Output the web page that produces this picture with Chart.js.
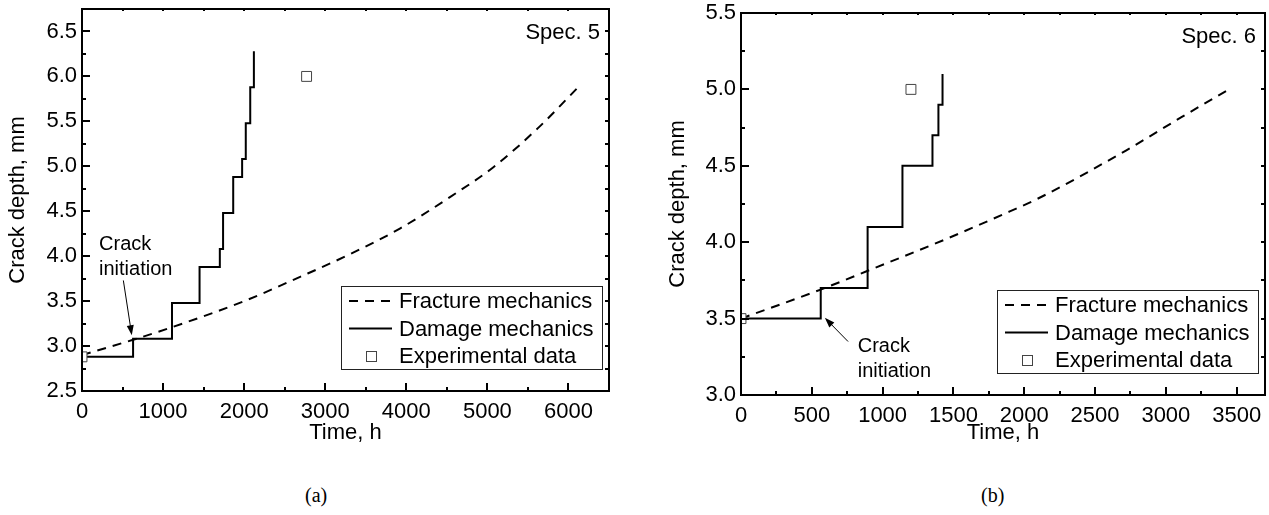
<!DOCTYPE html>
<html>
<head>
<meta charset="utf-8">
<title>Crack depth vs time</title>
<script src="https://cdn.jsdelivr.net/npm/chart.js@4.4.1/dist/chart.umd.min.js"></script>
<style>
  body { margin: 0; background: #fff; width: 1269px; height: 515px; position: relative; overflow: hidden; }
  .panel { position: absolute; top: 0; height: 455px; }
  #panel-a { left: 0; width: 640px; }
  #panel-b { left: 660px; width: 609px; }
  .caption { position: absolute; top: 484px; font-family: "Liberation Serif", "Times New Roman", serif; font-size: 20px; color: #000; }
</style>
</head>
<body>
<div class="panel" id="panel-a"><canvas id="chart-a"></canvas></div>
<div class="panel" id="panel-b"><canvas id="chart-b"></canvas></div>
<div class="caption" style="left:305px">(a)</div>
<div class="caption" style="left:981px">(b)</div>
<script>
// Spec. 5
const fractureTimeA = [0, 630, 1110, 2000, 2690, 3300, 3926, 4543, 5074, 5630, 6120];
const fractureDepthA = [2.90, 3.07, 3.21, 3.50, 3.77, 4.02, 4.31, 4.66, 4.99, 5.43, 5.88];
const damageTimeA = [0, 630, 1110, 1450, 1700, 1740, 1865, 1975, 2020, 2075, 2120];
const damageDepthA = [2.88, 3.08, 3.48, 3.88, 4.08, 4.48, 4.88, 5.08, 5.48, 5.88, 6.28];
const expTimeA = [0, 2770];
const expDepthA = [2.88, 6.0];
const xTicksA = [0, 1000, 2000, 3000, 4000, 5000, 6000];
const yTicksA = [2.5, 3.0, 3.5, 4.0, 4.5, 5.0, 5.5, 6.0, 6.5];

// Spec. 6
const fractureTimeB = [0, 563, 887, 1472, 1894, 2085, 2718, 3113, 3465];
const fractureDepthB = [3.50, 3.69, 3.81, 4.03, 4.20, 4.28, 4.60, 4.82, 5.01];
const damageTimeB = [0, 563, 894, 1140, 1352, 1394, 1423];
const damageDepthB = [3.5, 3.7, 4.1, 4.5, 4.7, 4.9, 5.1];
const expTimeB = [0, 1200];
const expDepthB = [3.5, 5.0];
const xTicksB = [0, 500, 1000, 1500, 2000, 2500, 3000, 3500];
const yTicksB = [3.0, 3.5, 4.0, 4.5, 5.0, 5.5];

const seriesLabels = ["Fracture mechanics", "Damage mechanics", "Experimental data"];
const xTitle = "Time, h";
const yTitle = "Crack depth, mm";

const FONT = "'Liberation Sans', Arial, sans-serif";

function toPoints(xs, ys) {
  return xs.map((x, i) => ({ x: x, y: ys[i] }));
}

// frame with inward ticks on all four sides
const frameTicks = {
  id: "frameTicks",
  afterDatasetsDraw(chart, args, opts) {
    const { ctx, chartArea: a, scales: { x, y } } = chart;
    ctx.save();
    ctx.strokeStyle = "#000";
    ctx.lineWidth = 2;
    ctx.beginPath();
    const nx = Math.round((x.max - x.min) / opts.xMinor);
    for (let i = 0; i <= nx; i++) {
      const v = x.min + i * opts.xMinor;
      const px = Math.round(x.getPixelForValue(v));
      const major = Math.abs(v / opts.xMajor - Math.round(v / opts.xMajor)) < 1e-6;
      ctx.moveTo(px, a.bottom); ctx.lineTo(px, a.bottom - (major ? 8 : 4));
      ctx.moveTo(px, a.top); ctx.lineTo(px, a.top + 2);
    }
    const ny = Math.round((y.max - y.min) / opts.yMinor);
    for (let i = 0; i <= ny; i++) {
      const v = y.min + i * opts.yMinor;
      const py = Math.round(y.getPixelForValue(v));
      const major = Math.abs(v / opts.yMajor - Math.round(v / opts.yMajor)) < 1e-6;
      ctx.moveTo(a.left, py); ctx.lineTo(a.left + (major ? 8 : 4), py);
      ctx.moveTo(a.right, py); ctx.lineTo(a.right - 4, py);
    }
    ctx.stroke();
    ctx.strokeRect(a.left, a.top, a.right - a.left, a.bottom - a.top);
    ctx.restore();
  }
};

// boxed legend in the lower right corner of the plot
const boxLegend = {
  id: "boxLegend",
  afterDraw(chart) {
    const { ctx, chartArea: a } = chart;
    const w = 261, h = 83, rowH = 27.5;
    const left = a.right - 7 - w, top = a.bottom - 22 - h;
    ctx.save();
    ctx.fillStyle = "#fff";
    ctx.fillRect(left, top, w, h);
    ctx.strokeStyle = "#222";
    ctx.lineWidth = 1;
    ctx.strokeRect(left + 0.5, top + 0.5, w, h);
    ctx.font = "22px " + FONT;
    ctx.textBaseline = "middle";
    chart.data.datasets.forEach((ds, i) => {
      const cy = top + 15 + i * rowH;
      if (ds.showLine) {
        ctx.strokeStyle = ds.borderColor;
        ctx.lineWidth = ds.borderWidth;
        ctx.setLineDash(ds.borderDash || []);
        ctx.beginPath();
        ctx.moveTo(left + 8, cy); ctx.lineTo(left + 51, cy);
        ctx.stroke();
        ctx.setLineDash([]);
      } else {
        const s = 10;
        ctx.fillStyle = ds.backgroundColor;
        ctx.fillRect(left + 30 - s / 2, cy - s / 2, s, s);
        ctx.strokeStyle = ds.borderColor;
        ctx.lineWidth = 1;
        ctx.strokeRect(left + 30.5 - s / 2, cy + 0.5 - s / 2, s, s);
      }
      ctx.fillStyle = "#000";
      ctx.fillText(ds.label, left + 58, cy + 1);
    });
    ctx.restore();
  }
};

// specimen label, "Crack initiation" note and arrow
const notes = {
  id: "notes",
  afterDraw(chart, args, opts) {
    const { ctx, chartArea: a, scales: { x, y } } = chart;
    ctx.save();
    ctx.fillStyle = "#000";
    ctx.font = "22px " + FONT;
    ctx.textAlign = "right";
    ctx.textBaseline = "alphabetic";
    ctx.fillText(opts.spec, a.right - 9, a.top + 30);

    ctx.font = "20px " + FONT;
    ctx.textAlign = "left";
    const tx = x.getPixelForValue(opts.textAt[0]);
    const ty = y.getPixelForValue(opts.textAt[1]);
    ctx.fillText("Crack", tx, ty);
    ctx.fillText("initiation", tx, ty + 25);

    const x1 = x.getPixelForValue(opts.arrowFrom[0]), y1 = y.getPixelForValue(opts.arrowFrom[1]);
    const x2 = x.getPixelForValue(opts.arrowTo[0]), y2 = y.getPixelForValue(opts.arrowTo[1]);
    const ang = Math.atan2(y2 - y1, x2 - x1);
    ctx.strokeStyle = "#000";
    ctx.lineWidth = 1;
    ctx.beginPath();
    ctx.moveTo(x1, y1);
    ctx.lineTo(x2 - Math.cos(ang) * 6, y2 - Math.sin(ang) * 6);
    ctx.stroke();
    ctx.beginPath();
    ctx.moveTo(x2, y2);
    ctx.lineTo(x2 - Math.cos(ang) * 10 - Math.sin(ang) * 3.5, y2 - Math.sin(ang) * 10 + Math.cos(ang) * 3.5);
    ctx.lineTo(x2 - Math.cos(ang) * 10 + Math.sin(ang) * 3.5, y2 - Math.sin(ang) * 10 - Math.cos(ang) * 3.5);
    ctx.closePath();
    ctx.fill();
    ctx.restore();
  }
};

function buildChart(canvasId, cfg) {
  const tickFont = { family: FONT, size: 22 };
  return new Chart(document.getElementById(canvasId), {
    type: "scatter",
    data: {
      datasets: [
        {
          label: seriesLabels[0],
          data: toPoints(cfg.fractureTime, cfg.fractureDepth),
          showLine: true,
          borderColor: "#000",
          borderWidth: 2,
          borderDash: [9, 7],
          cubicInterpolationMode: "monotone",
          pointRadius: 0,
          order: 2
        },
        {
          label: seriesLabels[1],
          data: toPoints(cfg.damageTime, cfg.damageDepth),
          showLine: true,
          stepped: true,
          borderColor: "#000",
          borderWidth: 2,
          pointRadius: 0,
          order: 1
        },
        {
          label: seriesLabels[2],
          data: toPoints(cfg.expTime, cfg.expDepth),
          showLine: false,
          pointStyle: "rect",
          pointRadius: 7,
          borderWidth: 1,
          borderColor: "#444",
          backgroundColor: "#fff",
          order: 0
        }
      ]
    },
    options: {
      responsive: true,
      maintainAspectRatio: false,
      animation: false,
      layout: {
        autoPadding: false,
        padding: { top: cfg.padTop, right: cfg.padRight, left: 0, bottom: 0 }
      },
      scales: {
        x: {
          type: "linear",
          min: 0,
          max: cfg.xMax,
          afterBuildTicks: (s) => { s.ticks = cfg.xTicks.map((v) => ({ value: v })); },
          afterFit: (s) => {
            s.height = cfg.xAxisHeight;
            s.paddingLeft = 0; s.paddingRight = 0;
          },
          grid: { display: false, drawTicks: false },
          border: { display: false },
          ticks: {
            autoSkip: false,
            maxRotation: 0,
            padding: 8,
            color: "#000",
            font: tickFont,
            callback: (v) => String(v)
          },
          title: { display: true, text: xTitle, color: "#000", font: tickFont, padding: { top: 0, bottom: 9 } }
        },
        y: {
          type: "linear",
          min: cfg.yMin,
          max: cfg.yMax,
          afterBuildTicks: (s) => { s.ticks = cfg.yTicks.map((v) => ({ value: v })); },
          afterFit: (s) => {
            s.width = cfg.yAxisWidth;
            s.paddingTop = 0; s.paddingBottom = 0;
          },
          grid: { display: false, drawTicks: false },
          border: { display: false },
          ticks: {
            autoSkip: false,
            padding: 5,
            color: "#000",
            font: tickFont,
            callback: (v) => Number(v).toFixed(1)
          },
          title: { display: true, text: yTitle, color: "#000", font: tickFont, padding: { top: 5, bottom: 0 } }
        }
      },
      plugins: {
        legend: { display: false },
        tooltip: { enabled: false },
        frameTicks: { xMajor: cfg.xTicks[1], xMinor: cfg.xTicks[1] / 2, yMajor: 0.5, yMinor: 0.25 },
        notes: { spec: cfg.spec, textAt: cfg.textAt, arrowFrom: cfg.arrowFrom, arrowTo: cfg.arrowTo }
      }
    },
    plugins: [frameTicks, boxLegend, notes]
  });
}

buildChart("chart-a", {
  fractureTime: fractureTimeA, fractureDepth: fractureDepthA,
  damageTime: damageTimeA, damageDepth: damageDepthA,
  expTime: expTimeA, expDepth: expDepthA,
  xTicks: xTicksA, yTicks: yTicksA,
  xMax: 6500, yMin: 2.5, yMax: 6.75,
  padTop: 9, padRight: 31, yAxisWidth: 82, xAxisHeight: 64,
  spec: "Spec. 5",
  textAt: [210, 4.07], arrowFrom: [510, 3.73], arrowTo: [614, 3.12]
});

buildChart("chart-b", {
  fractureTime: fractureTimeB, fractureDepth: fractureDepthB,
  damageTime: damageTimeB, damageDepth: damageDepthB,
  expTime: expTimeB, expDepth: expDepthB,
  xTicks: xTicksB, yTicks: yTicksB,
  xMax: 3700, yMin: 3.0, yMax: 5.5,
  padTop: 13, padRight: 4, yAxisWidth: 81, xAxisHeight: 60,
  spec: "Spec. 6",
  textAt: [824, 3.284], arrowFrom: [756, 3.35], arrowTo: [592, 3.505]
});
</script>
</body>
</html>
